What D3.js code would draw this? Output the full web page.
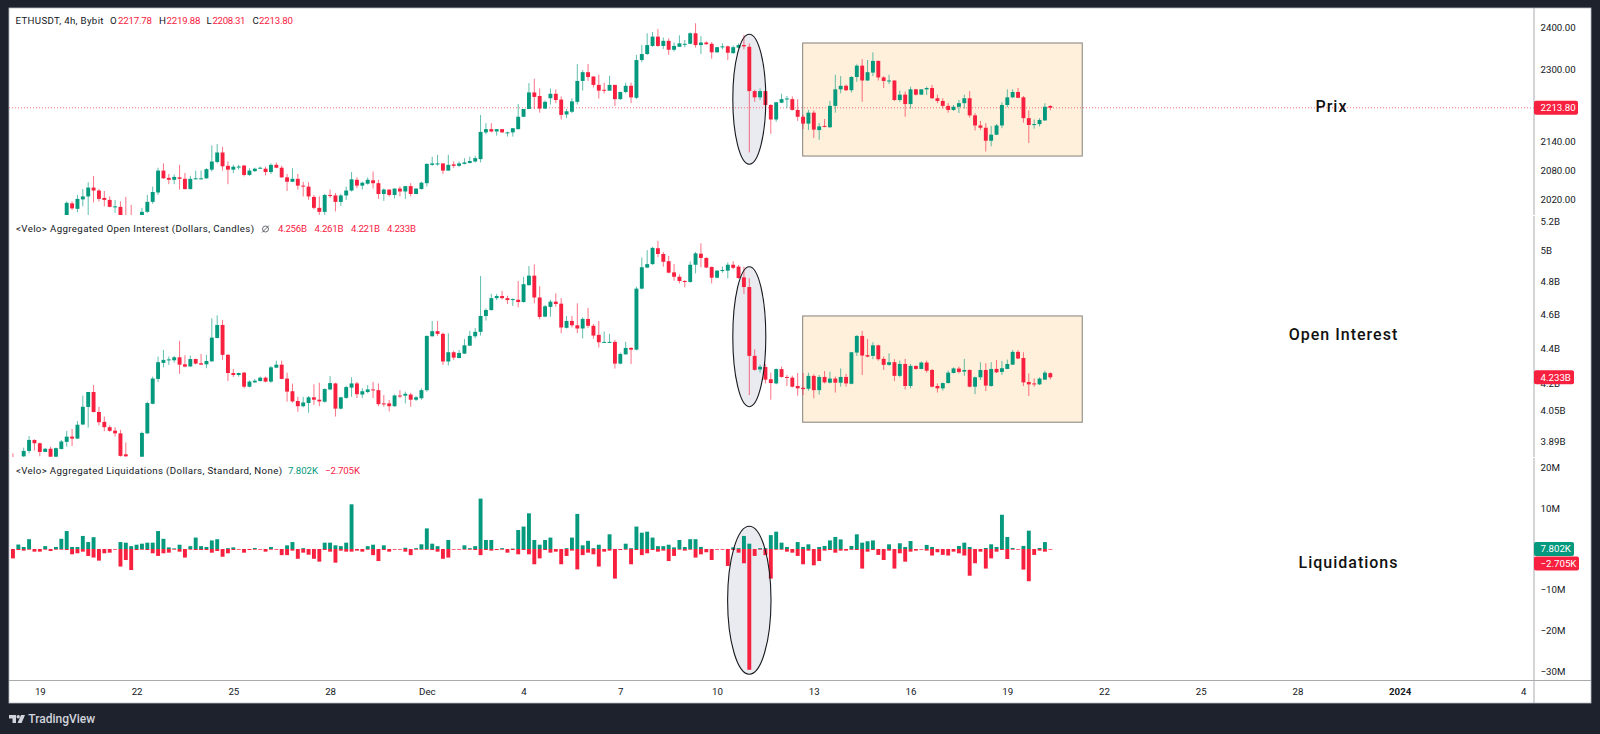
<!DOCTYPE html>
<html>
<head>
<meta charset="utf-8">
<title>ETHUSDT 4h</title>
<script src="https://cdn.jsdelivr.net/npm/d3@7"></script>
<style>
  html, body { margin: 0; padding: 0; background: #1e222d; overflow: hidden; }
  svg { display: block; }
</style>
</head>
<body>
<svg id="chart" width="1600" height="734"></svg>
<script>
// ETHUSDT perpetual, 4h bars: [open, high, low, close]
const priceOHLC = [
[1986,2016,1983,2013],[2012,2016,1999,2002],[2001,2029,1994,2021],[2020,2041,2006,2026],[2026,2055,1989,2044],
[2044,2068,2014,2038],[2038,2041,2016,2021],[2023,2037,2006,2019],[2019,2026,2004,2005],[2005,2019,1993,2006],
[2005,2016,1983,1986],[1984,2025,1960,1970],[1975,2009,1960,1968],[1968,1985,1955,1975],[1985,2003,1980,1995],
[1995,2029,1993,2015],[2015,2046,2011,2035],[2034,2085,2029,2079],[2079,2094,2062,2063],[2064,2072,2051,2060],
[2060,2071,2051,2066],[2065,2091,2040,2062],[2062,2074,2040,2041],[2041,2068,2040,2062],[2061,2079,2061,2063],
[2061,2079,2061,2063],[2063,2084,2062,2082],[2081,2132,2077,2098],[2097,2135,2094,2117],[2117,2129,2079,2088],
[2089,2098,2051,2081],[2081,2091,2074,2087],[2086.5,2091,2081,2087.5],[2089.5,2091,2067,2070],[2070,2084,2068,2079],
[2078,2085,2076,2083],[2084,2087.5,2083,2085],[2083,2087,2069,2076],[2076,2094,2072,2091],[2091,2096,2084,2085],
[2085,2089,2064,2065],[2065,2072,2037,2056],[2056,2084,2055,2062],[2062,2072,2040,2048],[2048,2056,2026,2046],
[2046,2055,2019,2026],[2025,2029,2000,2003],[2003,2026,1989,1995],[1995,2031,1989,2029],[2029,2040,2023,2028],
[2028,2033,1996,2015],[2015,2031,2007,2028],[2028,2046,2019,2038],[2038,2076,2036,2061],[2060,2065,2043,2048],
[2048,2056,2040,2054],[2052,2065,2050,2060],[2059,2077,2042,2053],[2053,2060,2021,2031],[2031,2042,2017,2040],
[2040,2040,2026,2029],[2029,2042,2022,2042],[2042,2046,2026,2036],[2036,2047,2021,2047],[2047,2053,2026,2031],
[2031,2042,2031,2042],[2041,2056,2040,2054],[2053,2094,2046,2093],[2091,2108,2089,2094],[2093.5,2112,2089,2094],
[2094,2094,2072,2079],[2079,2112,2079,2091],[2092,2098,2085,2089],[2089,2098,2087,2094],[2093,2105,2092,2096],
[2095,2108,2094,2099],[2098,2110,2096,2105],[2103,2198,2096,2161],[2160,2180,2156,2167],[2167,2180,2160,2162],
[2162,2167,2153,2167],[2167,2167,2159,2160],[2159,2161.5,2151,2160],[2160,2169,2151,2169],[2167,2222,2166,2194],
[2194,2211,2193,2211],[2211,2269,2211,2248],[2248,2279,2211,2238],[2240,2257,2203,2212],[2212,2230,2211,2227],
[2235,2257,2221,2245],[2245,2255,2224,2231],[2232,2239,2188,2198],[2199,2211,2191,2206],[2205,2235,2202,2228],
[2227,2313,2221,2274],[2274,2299,2252,2294],[2294,2313,2274,2283],[2284,2285,2259,2265],[2265,2288,2234,2252],
[2254,2270,2246,2252],[2252,2286,2252,2265],[2265,2265,2218,2233],[2233,2250,2231,2249],[2249,2270,2246,2263],
[2263,2270,2224,2237],[2236,2334,2233,2322],[2322,2357,2317,2336],[2336,2385,2334,2357],[2355,2388,2353,2377],
[2377,2395,2353,2355],[2355,2375,2348,2367],[2367,2373,2334,2346],[2346,2363,2342,2355],[2353,2380,2353,2361],
[2359,2369,2352,2360],[2360,2387,2359,2385],[2385,2409,2351,2357],[2357,2378,2336,2363],[2363,2366,2358,2359],
[2360,2364,2325,2340],[2340,2353,2339,2352],[2352,2361,2347,2354],[2354,2356,2322,2339],[2338,2356,2337,2352],
[2351,2361,2349,2357],[2357,2381,2347,2354],[2353,2361,2117,2251],[2251,2254,2227,2237],[2237,2257,2231,2251],
[2251,2252,2209,2220],[2220,2222,2157,2188],[2188,2227,2183,2226],[2225,2245,2224,2233],[2233,2240,2213,2234.5],
[2233,2239,2208,2209],[2209,2233,2185,2194],[2194,2198,2167,2179],[2179,2209,2165,2203],[2203,2208,2148,2166],
[2165,2180,2144,2173],[2174,2189,2171,2172],[2171,2229,2170,2218],[2218,2288,2203,2255],[2255,2285,2246,2263],
[2263,2266,2251,2253],[2253,2285,2248,2283],[2283,2312,2272,2309],[2309,2324,2227,2275],[2275,2322,2274,2294],
[2293,2340,2285,2320],[2320,2321,2275,2282],[2282,2285,2258,2274],[2274,2288,2267,2275],[2275,2275,2229,2231],
[2231,2252,2227,2243],[2243,2250,2194,2222],[2222,2261,2212,2255],[2255,2256,2241,2243],[2243,2255,2242,2255],
[2255,2261,2242,2258],[2258,2265,2233,2235],[2235,2243,2224,2229],[2229,2235,2212,2218],[2218,2224,2203,2209],
[2209,2220,2207,2216],[2216,2231,2202,2224],[2224,2243,2212,2235],[2235,2251,2192,2197],[2197,2202,2164,2175],
[2175,2185,2165,2170],[2170,2180,2119,2142],[2142,2174,2130,2155],[2155,2178,2154,2175],[2175,2226,2169,2220],
[2220,2255,2215,2237],[2237,2255,2235,2249],[2249,2258,2235,2236],[2237,2240,2181,2191],[2191,2208,2137,2176],
[2177,2188,2168,2178],[2178,2191,2173,2187],[2186,2224,2185,2216],[2217.78,2219.88,2208.31,2213.80]
];

// Aggregated open interest in billions of dollars: [open, high, low, close]
const oiOHLC = [
[3.805,3.830,3.790,3.800],[3.780,3.805,3.770,3.800],[3.815,3.859,3.810,3.842],[3.842,3.918,3.830,3.898],[3.898,3.901,3.844,3.881],
[3.881,3.885,3.815,3.837],[3.837,3.856,3.837,3.853],[3.853,3.864,3.810,3.813],[3.813,3.859,3.813,3.856],[3.852,3.898,3.849,3.890],
[3.888,3.945,3.864,3.915],[3.915,3.955,3.867,3.905],[3.905,3.996,3.903,3.977],[3.978,4.132,3.975,4.072],[4.071,4.152,3.962,4.152],
[4.152,4.190,4.041,4.044],[4.044,4.072,3.973,3.990],[3.992,4.020,3.943,3.964],[3.964,3.973,3.940,3.945],[3.946,3.964,3.915,3.932],
[3.932,3.950,3.813,3.817],[3.825,3.885,3.810,3.815],[3.790,3.805,3.760,3.780],[3.780,3.805,3.760,3.800],[3.813,3.941,3.805,3.934],
[3.932,4.099,3.929,4.092],[4.088,4.237,4.085,4.226],[4.224,4.350,4.207,4.318],[4.314,4.388,4.289,4.331],[4.331,4.350,4.303,4.334],
[4.329,4.354,4.316,4.346],[4.346,4.441,4.252,4.304],[4.306,4.358,4.289,4.293],[4.294,4.356,4.292,4.336],[4.336,4.339,4.306,4.310],
[4.312,4.365,4.303,4.304],[4.306,4.360,4.284,4.325],[4.323,4.575,4.320,4.460],[4.458,4.593,4.455,4.535],[4.535,4.565,4.331,4.360],
[4.360,4.365,4.212,4.257],[4.257,4.280,4.235,4.246],[4.246,4.259,4.237,4.257],[4.259,4.263,4.172,4.181],[4.181,4.216,4.177,4.209],
[4.205,4.224,4.201,4.214],[4.212,4.237,4.210,4.231],[4.231,4.237,4.205,4.209],[4.209,4.297,4.203,4.289],[4.287,4.327,4.284,4.304],
[4.304,4.327,4.222,4.224],[4.226,4.259,4.099,4.154],[4.156,4.198,4.094,4.101],[4.103,4.126,4.045,4.075],[4.075,4.126,4.069,4.095],
[4.092,4.130,4.040,4.123],[4.123,4.194,4.082,4.110],[4.110,4.203,4.075,4.101],[4.099,4.172,4.094,4.168],[4.166,4.240,4.162,4.201],
[4.199,4.203,4.020,4.062],[4.062,4.126,4.058,4.123],[4.120,4.186,4.115,4.179],[4.176,4.233,4.126,4.199],[4.199,4.208,4.119,4.140],
[4.138,4.172,4.119,4.156],[4.152,4.190,4.145,4.166],[4.166,4.208,4.119,4.162],[4.162,4.199,4.075,4.086],[4.090,4.135,4.072,4.086],
[4.090,4.108,4.047,4.075],[4.075,4.138,4.072,4.133],[4.133,4.162,4.119,4.128],[4.132,4.154,4.090,4.142],[4.138,4.147,4.072,4.110],
[4.110,4.130,4.103,4.123],[4.118,4.172,4.110,4.162],[4.162,4.472,4.154,4.470],[4.468,4.559,4.466,4.498],[4.498,4.559,4.470,4.482],
[4.482,4.490,4.303,4.322],[4.322,4.486,4.299,4.375],[4.375,4.384,4.331,4.344],[4.342,4.388,4.340,4.371],[4.367,4.452,4.365,4.415],
[4.413,4.500,4.411,4.470],[4.468,4.516,4.456,4.494],[4.494,4.837,4.472,4.589],[4.589,4.635,4.561,4.625],[4.625,4.724,4.621,4.698],
[4.698,4.724,4.686,4.711],[4.711,4.743,4.690,4.698],[4.698,4.713,4.662,4.686],[4.686,4.696,4.650,4.692],[4.688,4.805,4.642,4.674],
[4.674,4.832,4.670,4.785],[4.779,4.901,4.775,4.839],[4.839,4.911,4.666,4.702],[4.702,4.773,4.569,4.583],[4.585,4.656,4.581,4.648],
[4.644,4.688,4.585,4.676],[4.676,4.728,4.646,4.662],[4.664,4.698,4.486,4.520],[4.518,4.589,4.514,4.559],[4.559,4.589,4.520,4.533],
[4.533,4.666,4.486,4.514],[4.514,4.581,4.456,4.571],[4.571,4.638,4.518,4.530],[4.530,4.541,4.454,4.472],[4.476,4.559,4.402,4.433],
[4.431,4.496,4.431,4.435],[4.431,4.482,4.431,4.435],[4.435,4.447,4.282,4.310],[4.310,4.373,4.306,4.365],[4.363,4.435,4.360,4.400],
[4.400,4.404,4.308,4.390],[4.390,4.769,4.386,4.757],[4.757,4.955,4.753,4.893],[4.891,5.004,4.887,4.913],[4.913,5.026,4.909,5.019],
[5.017,5.065,4.958,4.979],[4.979,4.993,4.897,4.928],[4.932,4.966,4.854,4.858],[4.860,4.913,4.807,4.832],[4.832,4.847,4.790,4.805],
[4.805,4.811,4.765,4.799],[4.799,4.930,4.794,4.909],[4.909,4.993,4.854,4.983],[4.981,5.050,4.893,4.953],[4.953,4.958,4.887,4.891],
[4.895,4.897,4.790,4.826],[4.826,4.875,4.822,4.871],[4.871,4.897,4.858,4.875],[4.871,4.924,4.822,4.909],[4.909,4.932,4.880,4.889],
[4.897,4.907,4.820,4.824],[4.828,4.897,4.724,4.767],[4.767,4.822,4.135,4.354],[4.354,4.392,4.270,4.275],[4.277,4.304,4.259,4.292],
[4.291,4.308,4.199,4.220],[4.222,4.259,4.110,4.201],[4.199,4.283,4.194,4.279],[4.279,4.294,4.231,4.235],[4.235,4.246,4.185,4.231],
[4.231,4.242,4.177,4.181],[4.185,4.257,4.132,4.172],[4.175,4.257,4.135,4.168],[4.170,4.259,4.159,4.241],[4.241,4.250,4.118,4.162],
[4.162,4.246,4.138,4.235],[4.235,4.268,4.199,4.205],[4.203,4.264,4.199,4.226],[4.226,4.237,4.149,4.203],[4.203,4.283,4.181,4.235],
[4.235,4.252,4.181,4.199],[4.197,4.375,4.194,4.375],[4.373,4.474,4.354,4.470],[4.470,4.500,4.246,4.356],[4.358,4.452,4.346,4.350],
[4.354,4.433,4.335,4.415],[4.415,4.419,4.327,4.335],[4.337,4.350,4.274,4.303],[4.303,4.369,4.297,4.318],[4.318,4.335,4.212,4.241],
[4.241,4.327,4.233,4.308],[4.308,4.337,4.166,4.185],[4.185,4.308,4.172,4.297],[4.297,4.299,4.275,4.280],[4.280,4.322,4.278,4.316],
[4.316,4.327,4.259,4.270],[4.274,4.280,4.177,4.181],[4.185,4.199,4.149,4.172],[4.172,4.203,4.159,4.201],[4.201,4.270,4.199,4.259],
[4.257,4.289,4.255,4.283],[4.282,4.293,4.255,4.263],[4.265,4.337,4.241,4.274],[4.274,4.278,4.177,4.181],[4.181,4.237,4.140,4.233],
[4.233,4.318,4.218,4.274],[4.274,4.312,4.157,4.187],[4.185,4.318,4.181,4.280],[4.280,4.331,4.257,4.261],[4.263,4.325,4.246,4.284],
[4.280,4.333,4.278,4.308],[4.304,4.388,4.303,4.377],[4.377,4.388,4.335,4.339],[4.342,4.375,4.185,4.205],[4.207,4.255,4.130,4.194],
[4.199,4.227,4.181,4.194],[4.194,4.233,4.190,4.226],[4.220,4.270,4.218,4.259],[4.256,4.261,4.221,4.233]
];

// Aggregated liquidations per bar, millions of dollars
const liqLongs = [
0,1.1,.5,2.4,0,0,.7,0,.5,2.5, 4.4,.5,.5,3.2,1.7,2.9,0,0,0,0,
1.7,1.55,.7,1.05,1.3,1.55,1.55,4.4,2.5,.4, .15,1.05,0,.7,2.8,.7,.5,2.1,2.4,0,
.2,.4,0,0,0,.25,0,0,.5,0, 0,.9,1.7,0,.2,0,0,0,1.55,1.55,
.9,.7,1.55,10.95,0,0,.7,1.05,0,.9, 0,0,0,.3,0,.2,1.15,5.05,1.3,.7,
0,2.2,0,0,.9,.2,.7,12.35,2.2,2.2, 0,.2,0,.1,4.65,5.5,8.75,2.2,1.05,2.2,
2.8,0,0,.2,2.8,8.6,.9,2,.2,1.05, 0,3.6,0,0,1.3,.2,5.5,4,4.25,2.8,
.7,.7,1.05,.4,2.2,.5,2.4,2.4,.5,0, 0,0,0,0,.4,.2,3.2,1.3,0,.2,
.2,3.4,4.25,1.55,.5,0,1.7,.5,1.15,0, .5,.75,2.1,2.95,2.35,0,.75,3.6,1.55,1.9,
2.1,0,0,1.15,0,1.4,.5,1.95,0,0, 1,.5,0,0,0,0,.75,1.55,.5,0,
0,.25,1.15,.5,8.4,2.95,.25,0,.75,4.5, 0,.25,1.7,.007802
];
const liqShorts = [
2.3,.25,.4,.1,.65,.65,.1,.5,.1,.1, .25,1.3,1.05,.65,1.7,2.1,2.85,1.05,.9,.1,
4.3,2.7,5.15,.25,.1,.25,1.05,1.7,1.05,.9, .1,.65,2.1,.1,.25,.25,.25,.9,.5,1.9,
1.05,.25,0,.9,.25,.15,0,.65,.1,0, 1.5,1.5,.4,2.4,.9,1.4,2.4,3.1,.25,.65,
3.35,.4,.65,.65,.4,.65,.1,1.5,2.95,.25, .65,.1,.1,.65,1.5,.1,.1,.1,.25,.65,
2.4,2.1,.15,.15,.1,.1,.25,1.5,.25,.4, .25,.1,.9,.25,1.3,.25,1.3,3.75,2.3,.25,
.9,.65,3.75,1.7,.4,5,1.5,.9,1.3,4.3, .65,.4,7.25,.25,.1,3.75,.25,1.5,1.05,.25,
.65,.4,2.95,1.7,.1,.4,.1,2.1,1.3,.8, 2.7,0,.15,4.15,.25,.9,3.5,29.6,1.7,.15,
1.5,7.25,.15,.15,.65,.9,1.7,3.75,.4,4, 2.95,.4,.25,.9,.4,.4,.2,.25,4.8,.65,
.25,1.45,2.7,.4,4.8,1.05,3.1,.65,.4,0, .4,1.6,.8,1.45,1.6,.65,1.05,1.6,6.55,3.5,
.65,4.8,2.3,.65,.25,2.45,.1,.15,5.05,7.9, 1.45,.4,.65,.002705
];

// Axis labels
const priceTicks = [2400, 2300, 2140, 2080, 2020];
const oiTicks = [5.2, 5, 4.8, 4.6, 4.4, 4.2, 4.05, 3.89];
const liqTicks = [20, 10, -10, -20, -30];
const timeTicks = [
  ["2023-11-19T00:00Z", "19"], ["2023-11-22T00:00Z", "22"], ["2023-11-25T00:00Z", "25"], ["2023-11-28T00:00Z", "28"],
  ["2023-12-01T00:00Z", "Dec"], ["2023-12-04T00:00Z", "4"], ["2023-12-07T00:00Z", "7"], ["2023-12-10T00:00Z", "10"],
  ["2023-12-13T00:00Z", "13"], ["2023-12-16T00:00Z", "16"], ["2023-12-19T00:00Z", "19"], ["2023-12-22T00:00Z", "22"],
  ["2023-12-25T00:00Z", "25"], ["2023-12-28T00:00Z", "28"], ["2023-12-31T04:00Z", "2024"], ["2024-01-04T00:00Z", "4"]
];

const BAR_MS = 4 * 3600e3;
const firstBar = Date.UTC(2023, 10, 18, 4);
const barCount = oiOHLC.length;
const barTime = i => new Date(firstBar + i * BAR_MS);

const GREEN = "#05997e", RED = "#f7213f", INK = "#131722";
const FONT = "Roboto, 'Liberation Sans', sans-serif";
const frameL = 9, frameR = 1591, frameT = 8, frameB = 703, axisX = 1534, timeY = 680.5;

const svg = d3.select("#chart").style("font-family", FONT);

// Scales: one shared time axis, three stacked panes
const x = d3.scaleUtc().domain([barTime(0), barTime(barCount - 1)]).range([12.95, 1050.3]);
const yPrice = d3.scaleLog().domain([2400, 2020]).range([27, 199.4]);
const yOI = d3.scaleLog().domain([5.2, 3.89]).range([221, 441.5]);
const yLiq = d3.scaleLinear().domain([20, -30]).range([467.4, 671.4]);

// Background
svg.append("rect").attr("width", 1600).attr("height", 734).attr("fill", "#1e222d");
svg.append("rect").attr("x", frameL).attr("y", frameT).attr("width", frameR - frameL).attr("height", frameB - frameT)
  .attr("fill", "#fff").attr("stroke", "#b9bcc4").attr("stroke-width", 0.8);

// Pane clipping regions
const defs = svg.append("defs");
[["pane-price", frameT, 215], ["pane-oi", 216, 457], ["pane-liq", 458, timeY]].forEach(([id, y0, y1]) => {
  defs.append("clipPath").attr("id", id).append("rect")
    .attr("x", frameL).attr("y", y0).attr("width", axisX - frameL).attr("height", y1 - y0);
});

// Highlight boxes and ellipses, under the marks
const boxX = [x(barTime(147)) - 0.4, x(barTime(147)) + 279.2];
function box(y0, y1) {
  svg.append("rect").attr("x", boxX[0]).attr("y", y0).attr("width", boxX[1] - boxX[0]).attr("height", y1 - y0)
    .attr("fill", "#fff0dc").attr("stroke", "#8e8b84").attr("stroke-width", 1.1);
}
box(yPrice(2361.9), yPrice(2109.5));
box(yOI(4.589), yOI(3.99));

const crash = x(barTime(137));
const ellipses = [
  { cx: crash, cy: 99.2, rx: 16.5, ry: 65 },
  { cx: crash, cy: 336.7, rx: 16.5, ry: 70 },
  { cx: crash, cy: 600.2, rx: 21.7, ry: 74 }
];
svg.append("g").selectAll("ellipse").data(ellipses).join("ellipse")
  .attr("cx", d => d.cx).attr("cy", d => d.cy).attr("rx", d => d.rx).attr("ry", d => d.ry)
  .attr("fill", "#e9ebf0");

// Last-price line across the top pane
const lastPrice = priceOHLC[priceOHLC.length - 1][3];
svg.append("line").attr("x1", frameL).attr("x2", axisX)
  .attr("y1", yPrice(lastPrice)).attr("y2", yPrice(lastPrice))
  .attr("stroke", RED).attr("stroke-width", 0.9).attr("stroke-dasharray", "1 2").attr("opacity", 0.7);

// Candles for a pane: wick and body for every bar
function candles(rows, firstIndex, y, clip) {
  const g = svg.append("g").attr("clip-path", `url(#${clip})`);
  const items = rows.map((r, j) => ({ t: barTime(firstIndex + j), o: r[0], h: r[1], l: r[2], c: r[3] }));
  const color = d => d.c >= d.o ? GREEN : RED;
  g.selectAll("line").data(items).join("line")
    .attr("x1", d => x(d.t)).attr("x2", d => x(d.t))
    .attr("y1", d => y(d.h)).attr("y2", d => y(d.l))
    .attr("stroke", color).attr("stroke-width", 0.8).attr("stroke-opacity", 0.8);
  g.selectAll("rect").data(items).join("rect")
    .attr("x", d => x(d.t) - 1.95).attr("width", 3.9)
    .attr("y", d => y(Math.max(d.o, d.c)))
    .attr("height", d => Math.max(1, y(Math.min(d.o, d.c)) - y(Math.max(d.o, d.c))))
    .attr("fill", color);
}
candles(priceOHLC, barCount - priceOHLC.length, yPrice, "pane-price");
candles(oiOHLC, 0, yOI, "pane-oi");

// Liquidation columns either side of zero
const liqPane = svg.append("g").attr("clip-path", "url(#pane-liq)");
const zero = yLiq(0);
liqPane.selectAll("rect.long").data(liqLongs).join("rect").attr("class", "long")
  .attr("x", (d, i) => x(barTime(i)) - 1.95).attr("width", 3.9)
  .attr("y", d => yLiq(d)).attr("height", d => zero - yLiq(d))
  .attr("fill", GREEN);
liqPane.selectAll("rect.short").data(liqShorts).join("rect").attr("class", "short")
  .attr("x", (d, i) => x(barTime(i)) - 1.95).attr("width", 3.9)
  .attr("y", zero).attr("height", d => Math.max(0.7, yLiq(-d) - zero))
  .attr("fill", RED);

// Ellipse outlines sit over the marks
svg.append("g").selectAll("ellipse").data(ellipses).join("ellipse")
  .attr("cx", d => d.cx).attr("cy", d => d.cy).attr("rx", d => d.rx).attr("ry", d => d.ry)
  .attr("fill", "none").attr("stroke", "#16181d").attr("stroke-width", 1.1);

// Axis frame lines
svg.append("line").attr("x1", axisX).attr("x2", axisX).attr("y1", frameT).attr("y2", frameB)
  .attr("stroke", "#a8aaae").attr("stroke-width", 1);
svg.append("line").attr("x1", frameL).attr("x2", frameR).attr("y1", timeY).attr("y2", timeY)
  .attr("stroke", "#a8aaae").attr("stroke-width", 1);
[215.5, 457.5].forEach(y => svg.append("line").attr("x1", axisX - 1).attr("x2", axisX + 1)
  .attr("y1", y).attr("y2", y).attr("stroke", "#fff"));

// Value axes on the right, time axis along the bottom
function styleAxis(g) {
  g.select(".domain").remove();
  g.selectAll("line").remove();
  g.selectAll("text").attr("fill", INK).style("font-family", FONT).style("font-size", "9.7px");
}
svg.append("g").attr("transform", `translate(${axisX},0)`)
  .call(d3.axisRight(yPrice).tickValues(priceTicks).tickFormat(d3.format(".2f")).tickSize(0).tickPadding(6.5))
  .call(styleAxis);
svg.append("g").attr("transform", `translate(${axisX},0)`)
  .call(d3.axisRight(yOI).tickValues(oiTicks).tickFormat(d => `${d}B`).tickSize(0).tickPadding(6.5))
  .call(styleAxis);
svg.append("g").attr("transform", `translate(${axisX},0)`)
  .call(d3.axisRight(yLiq).tickValues(liqTicks).tickFormat(d => `${d < 0 ? "\u2212" : ""}${Math.abs(d)}M`).tickSize(0).tickPadding(6.5))
  .call(styleAxis);
const tickDates = timeTicks.map(d => new Date(d[0]));
const tickLabel = new Map(timeTicks.map(d => [+new Date(d[0]), d[1]]));
svg.append("g").attr("transform", `translate(0,${timeY})`)
  .call(d3.axisBottom(x).tickValues(tickDates).tickFormat(d => tickLabel.get(+d)).tickSize(0).tickPadding(8))
  .call(styleAxis)
  .selectAll("text").filter(d => tickLabel.get(+d) === "2024").style("font-weight", 700);

// Value tags on the price axis
function tag(y, w, label, fill) {
  const h = 14;
  svg.append("rect").attr("x", axisX).attr("y", y - h / 2).attr("width", w).attr("height", h).attr("rx", 2).attr("fill", fill);
  svg.append("text").attr("x", axisX + 6.5).attr("y", y).attr("dy", "0.35em").attr("fill", "#fff")
    .style("font-size", "9.7px").text(label);
}
tag(yPrice(lastPrice), 44, "2213.80", RED);
tag(yOI(oiOHLC[barCount - 1][3]), 40, "4.233B", RED);
tag(549, 40, "7.802K", GREEN);
tag(563.5, 45, "\u22122.705K", RED);

// Pane legends
function legend(y, parts) {
  parts.forEach(([px, label, fill, width]) => {
    svg.append("text").attr("x", px).attr("y", y).attr("dy", "0.35em").attr("fill", fill)
      .attr("textLength", width).attr("lengthAdjust", "spacing")
      .style("font-size", "9.7px").text(label);
  });
}
legend(21, [
  [15.5, "ETHUSDT, 4h, Bybit", INK, 88], [110, "O", INK, 7], [118, "2217.78", RED, 34],
  [159, "H", INK, 7], [166.5, "2219.88", RED, 34], [206.5, "L", INK, 5], [212.5, "2208.31", RED, 33],
  [252.5, "C", INK, 6], [259, "2213.80", RED, 34]
]);
legend(229, [
  [16, "<Velo> Aggregated Open Interest (Dollars, Candles)", INK, 238],
  [278, "4.256B", RED, 29], [314.5, "4.261B", RED, 29], [351, "4.221B", RED, 29], [387, "4.233B", RED, 29]
]);
legend(470.7, [
  [16, "<Velo> Aggregated Liquidations (Dollars, Standard, None)", INK, 266],
  [288, "7.802K", GREEN, 30], [325, "\u22122.705K", RED, 35]
]);
// Hidden-values marker next to the open interest legend
svg.append("circle").attr("cx", 265.5).attr("cy", 229).attr("r", 3).attr("fill", "none").attr("stroke", "#4a4d57").attr("stroke-width", 0.8);
svg.append("line").attr("x1", 262).attr("y1", 232.5).attr("x2", 269).attr("y2", 225.5).attr("stroke", "#4a4d57").attr("stroke-width", 0.8);

// Pane titles
[["Prix", 1331.5, 106], ["Open Interest", 1343.5, 334.5], ["Liquidations", 1348.5, 562]].forEach(([label, px, py]) => {
  svg.append("text").attr("x", px).attr("y", py).attr("dy", "0.35em").attr("text-anchor", "middle")
    .attr("fill", "#111").style("font-size", "16px").style("font-weight", 500).style("letter-spacing", "1px").text(label);
});

// Footer mark
const foot = svg.append("g").attr("fill", "#d1d4dc");
foot.append("path").attr("d", "M9 715h7v8h-3.5v-4.5H9z");
foot.append("circle").attr("cx", 18.2).attr("cy", 716.8).attr("r", 1.7);
foot.append("path").attr("d", "M21 715h4l-3.4 8h-4z");
foot.append("text").attr("x", 28.3).attr("y", 719).attr("dy", "0.35em").style("font-size", "12px").style("font-weight", 500).text("TradingView");
</script>
</body>
</html>
